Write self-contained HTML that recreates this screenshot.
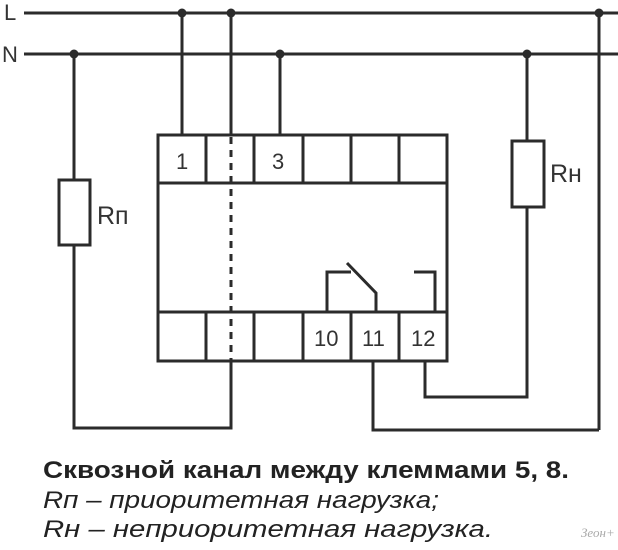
<!DOCTYPE html>
<html><head><meta charset="utf-8"><style>
body{margin:0;background:#fff;width:618px;height:550px;overflow:hidden}
svg{display:block}
</style></head><body>
<svg width="618" height="550" xmlns="http://www.w3.org/2000/svg" font-family="Liberation Sans, DejaVu Sans, sans-serif">
<g stroke="#2b2b2b" stroke-width="3" fill="none">
<line x1="24" y1="13" x2="618" y2="13"/>
<line x1="24" y1="54" x2="618" y2="54"/>
<line x1="182" y1="13" x2="182" y2="135"/>
<line x1="231" y1="13" x2="231" y2="135"/>
<line x1="280" y1="54" x2="280" y2="135"/>
<line x1="599" y1="13" x2="599" y2="430"/>
<polyline points="599,430 373,430 373,361"/>
<polyline points="74,54 74,180"/>
<rect x="59" y="180" width="31" height="65" fill="#fff"/>
<polyline points="74,245 74,428 231,428 231,361"/>
<line x1="527" y1="54" x2="527" y2="141"/>
<rect x="512" y="141" width="32" height="66" fill="#fff"/>
<polyline points="527,207 527,397 425,397 425,361"/>
<rect x="158" y="135" width="289" height="226"/>
<line x1="158" y1="183" x2="447" y2="183"/>
<line x1="158" y1="312" x2="447" y2="312"/>
<line x1="206" y1="135" x2="206" y2="183"/><line x1="254" y1="135" x2="254" y2="183"/><line x1="303" y1="135" x2="303" y2="183"/><line x1="351" y1="135" x2="351" y2="183"/><line x1="399" y1="135" x2="399" y2="183"/>
<line x1="206" y1="312" x2="206" y2="361"/><line x1="254" y1="312" x2="254" y2="361"/><line x1="303" y1="312" x2="303" y2="361"/><line x1="351" y1="312" x2="351" y2="361"/><line x1="399" y1="312" x2="399" y2="361"/>
<line x1="231" y1="137" x2="231" y2="361" stroke-dasharray="7,6"/>
<polyline points="327,312 327,272 351,272"/>
<polyline points="347,263 376,293 376,312"/>
<polyline points="414,272 435,272 435,312"/>
</g>
<g fill="#2b2b2b">
<circle cx="182" cy="13" r="4.5"/><circle cx="231" cy="13" r="4.5"/><circle cx="599" cy="13" r="4.5"/>
<circle cx="74" cy="54" r="4.5"/><circle cx="280" cy="54" r="4.5"/><circle cx="527" cy="54" r="4.5"/>
</g>
<g fill="#333" font-size="22">
<text x="4" y="20">L</text>
<text x="2" y="62">N</text>
<text x="176" y="169">1</text>
<text x="272" y="169">3</text>
<text x="314" y="346">10</text>
<text x="362" y="346">11</text>
<text x="411" y="346">12</text>
<text x="97" y="224" font-size="25">Rп</text>
<text x="550" y="182" font-size="25">Rн</text>
</g>
<text x="43" y="478" font-size="24" font-weight="bold" fill="#222" textLength="526" lengthAdjust="spacingAndGlyphs">Сквозной канал между клеммами 5, 8.</text>
<text x="43" y="508" font-size="24" font-style="italic" fill="#222" textLength="396" lengthAdjust="spacingAndGlyphs">Rп – приоритетная нагрузка;</text>
<text x="43" y="537" font-size="24" font-style="italic" fill="#222" textLength="450" lengthAdjust="spacingAndGlyphs">Rн – неприоритетная нагрузка.</text>
<text x="581" y="537" font-size="13" font-style="italic" fill="#aaa" font-family="Liberation Serif, serif">Зеон+</text>
</svg>
</body></html>
